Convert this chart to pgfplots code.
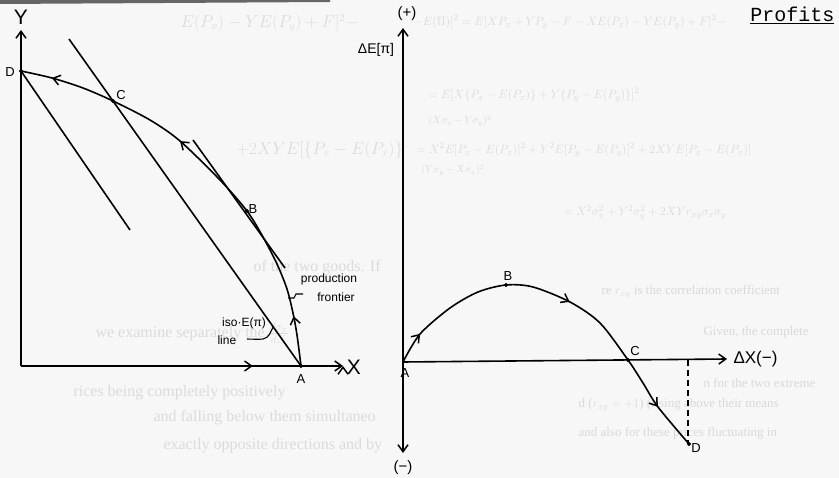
\documentclass[border=0pt]{standalone}
\usepackage{pgfplots}
\pgfplotsset{compat=1.18}
\usepackage{fontspec}
\setmainfont{Liberation Serif}
\setsansfont{Liberation Sans}
\setmonofont{Liberation Mono}
\usetikzlibrary{arrows.meta,decorations.markings}

\newcommand{\fs}[1]{\fontsize{#1}{#1}\selectfont}
\tikzset{
  barb/.tip={Straight Barb[length=7pt,width=10pt,line width=1.5pt]},
  marks3/.style n args={3}{postaction={decorate},decoration={markings,
    mark=at position #1 with {\arrow{barb}},
    mark=at position #2 with {\arrow{barb}},
    mark=at position #3 with {\arrow{barb}}}},
  lbl/.style={font=\sffamily\fs{13}},
  faint/.style={anchor=west,text=black!15,font=\fs{13}},
  faintbig/.style={anchor=west,text=black!14,font=\fs{16}},
}
\pgfplotsset{page/.style={width=839pt,height=478pt,scale only axis,
  xmin=0,xmax=839,ymin=0,ymax=478,y dir=reverse,hide axis,clip=false}}

\begin{document}
\begin{tikzpicture}
% page: paper and the text showing through from the other side
\begin{axis}[page]
\addplot[fill=black!3,draw=none] coordinates {(0,0)(839,0)(839,478)(0,478)} -- cycle;
\addplot[fill=black!60,draw=none] coordinates {(0,0)(330,0)(330,2)(0,4)} -- cycle;
\coordinate (pgtl) at (axis cs:0,0);
\coordinate (pgbr) at (axis cs:839,478);
% right half
\node[faint] at (axis cs:410,22) {$-E(\Pi)]^2 = E[XP_x + YP_y - F - XE(P_x) - YE(P_y) + F]^2 -$};
\node[faint] at (axis cs:425,95) {$= E[X\{P_x - E(P_x)\} + Y\{P_y - E(P_y)\}]^2$};
\node[faint,font=\fs{10}] at (axis cs:425,121) {$(X\sigma_x - Y\sigma_y)^2$};
\node[faint] at (axis cs:413,150) {$= X^2E[P_x - E(P_x)]^2 + Y^2E[P_y - E(P_y)]^2 + 2XYE[P_x-E(P_x)]$};
\node[faint,font=\fs{10}] at (axis cs:418,170) {$(Y\sigma_y - X\sigma_x)^2$};
\node[faint] at (axis cs:560,213) {$= X^2\sigma_x^2 + Y^2\sigma_y^2 + 2XYr_{xy}\sigma_x\sigma_y$};
\node[faint] at (axis cs:598,292) {re $r_{xy}$ is the correlation coefficient};
\node[faint] at (axis cs:700,332) {Given, the complete};
\node[faint] at (axis cs:700,383) {n for the two extreme};
\node[faint] at (axis cs:575,405) {d ($r_{xy}=+1$) (rising above their means};
\node[faint] at (axis cs:575,433) {and also for these prices fluctuating in};
% left half
\node[faintbig] at (axis cs:177,23) {$E(P_x) - YE(P_y) + F]^2 -$};
\node[faintbig] at (axis cs:233,150) {$+2XYE[\{P_x - E(P_x)\}$};
\node[faintbig] at (axis cs:250,268) {of the two goods. If};
\node[faintbig] at (axis cs:92,333) {we examine separately the $\frac{d\sigma_\pi}{dX}$};
\node[faintbig] at (axis cs:70,393) {rices being completely positively};
\node[faintbig] at (axis cs:150,418) {and falling below them simultaneo};
\node[faintbig] at (axis cs:160,446) {exactly opposite directions and by};
\end{axis}

% the two diagrams
\begin{axis}[page]
% left: axes
\addplot[black,line width=1.6pt,-barb] coordinates {(21,366)(21,30)};
\addplot[black,line width=1.6pt,-barb,postaction={decorate},decoration={markings,mark=at position 0.72 with {\arrow{barb}}}]
  coordinates {(21,366)(343,366)};
% left: production frontier, A -> B -> C -> D
\addplot[black,line width=1.6pt,smooth,marks3={0.115}{0.6}{0.928}] coordinates {
  (301,366)(297,335)(293,313)(287,289)(277,264)(263,237)(247,211)
  (220,180)(180,141)(150,120)(113,101)(83,88)(52,78)(21,71)};
% left: iso-E(pi) lines
\addplot[black,line width=1.6pt] coordinates {(21,71)(130,230)};
\addplot[black,line width=1.6pt] coordinates {(69,39)(301,366)};
\addplot[black,line width=1.6pt] coordinates {(193,140)(285,268)};
% left: leaders
\addplot[black,line width=1.1pt,smooth] coordinates {(247,339)(263,339)(269,335)(273,327)};
\addplot[black,line width=1.1pt] coordinates {(303,294)(296,294)(294,298)(288,298)};
\addplot[black,only marks,mark=*,mark size=1.8pt] coordinates {(21,71)(113,101)(247,211)(301,366)};

% right: axes
\addplot[black,line width=1.6pt,barb-barb] coordinates {(403,453)(403,28)};
\addplot[black,line width=1.6pt,-barb] coordinates {(403,362)(727,359)};
% right: profit curve, A -> B -> C -> D
\addplot[black,line width=1.6pt,smooth,marks3={0.085}{0.517}{0.875}] coordinates {
  (403,362)(420,334)(450,308)(478,292)(506,285)(533,287)(570,302)
  (600,323)(628,360)(643,383)(658,407)(689,444)};
\addplot[black,line width=1.4pt,dash pattern=on 6pt off 4pt] coordinates {(688,360)(688,444)};
\addplot[black,only marks,mark=*,mark size=1.8pt] coordinates {(506,285)(628,360)(689,444)};

% labels
\node[font=\sffamily\fs{21}] at (axis cs:21,17) {Y};
\node[font=\sffamily\fs{21}] at (axis cs:354,367) {X};
\node[lbl] at (axis cs:10,72) {D};
\node[lbl] at (axis cs:121,95) {C};
\node[lbl] at (axis cs:253,209) {B};
\node[lbl] at (axis cs:301,379) {A};
\node[font=\sffamily\fs{12}] at (axis cs:329,279) {production};
\node[font=\sffamily\fs{12}] at (axis cs:336,297) {frontier};
\node[font=\sffamily\fs{12}] at (axis cs:244,323) {iso·E(π)};
\node[font=\sffamily\fs{12},anchor=west] at (axis cs:214,340) {line};

\node[font=\sffamily\fs{15}] at (axis cs:407,14) {(+)};
\node[font=\sffamily\fs{15}] at (axis cs:403,468) {(−)};
\node[font=\sffamily\fs{14}] at (axis cs:376,50) {ΔE[π]};
\node[font=\sffamily\fs{17},anchor=west] at (axis cs:730,359) {ΔX(−)};
\node[lbl] at (axis cs:405,373) {A};
\node[lbl] at (axis cs:508,276) {B};
\node[lbl] at (axis cs:635,351) {C};
\node[lbl] at (axis cs:696,448) {D};

\node[font=\ttfamily\fs{20},anchor=east] at (axis cs:838,15) {\underline{Profits}};
\end{axis}
\pgfresetboundingbox
\path[use as bounding box] (pgtl) rectangle (pgbr);
\end{tikzpicture}
\end{document}
